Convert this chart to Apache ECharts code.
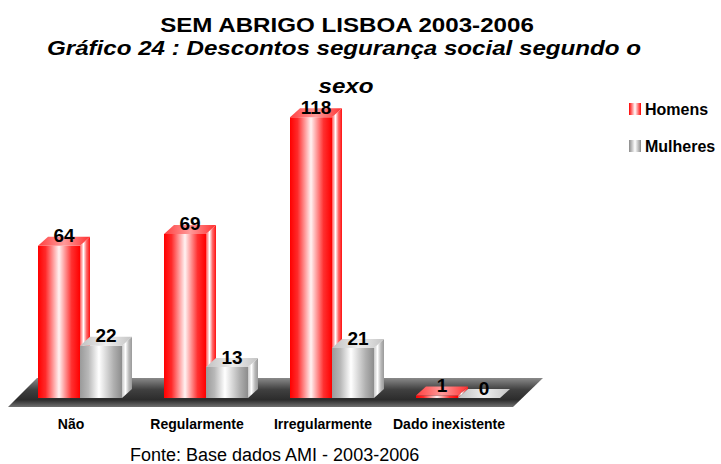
<!DOCTYPE html>
<html lang="pt">
<head>
    <meta charset="UTF-8">
    <title>Sem Abrigo Lisboa 2003-2006</title>
    <script src="https://cdn.jsdelivr.net/npm/echarts@6/dist/echarts.min.js"></script>
    <style>
        html, body { margin: 0; padding: 0; background: #fff; }
        #chart { width: 721px; height: 464px; }
    </style>
</head>
<body>
    <div id="chart"></div>
    <script>
        // dados do gráfico
        const categorias = ['Não', 'Regularmente', 'Irregularmente', 'Dado inexistente'];
        const homens = [64, 69, 118, 1];
        const mulheres = [22, 13, 21, 0];
        const seriesNames = ['Homens', 'Mulheres'];

        const FONT = '"Liberation Sans", Arial, sans-serif';
        const BAR_W = 42;   // largura da face frontal
        const DX = 10, DY = -9;  // profundidade 3D

        function grad(x, y, x2, y2, stops) {
            return new echarts.graphic.LinearGradient(x, y, x2, y2,
                stops.map(s => ({ offset: s[0], color: s[1] })));
        }

        const styles = {
            Homens: {
                front: [[0, '#ff0000'], [0.18, '#ff2a2a'], [0.5, '#fff2f2'], [0.8, '#ff3030'], [1, '#ff0000']],
                side: [[0, '#ff5050'], [0.35, '#ffffff'], [0.65, '#ff6a6a'], [1, '#ff1010']],
                top: [[0, '#ff4040'], [0.5, '#ff9a9a'], [1, '#ff3030']],
                legend: [[0, '#ff0000'], [0.5, '#ffffff'], [1, '#ff0000']]
            },
            Mulheres: {
                front: [[0, '#9a9a9a'], [0.2, '#b8b8b8'], [0.45, '#ffffff'], [0.8, '#b0b0b0'], [1, '#8c8c8c']],
                side: [[0, '#c8c8c8'], [0.35, '#ffffff'], [0.7, '#b8b8b8'], [1, '#9a9a9a']],
                top: [[0, '#c0c0c0'], [0.5, '#eeeeee'], [1, '#c4c4c4']],
                legend: [[0, '#8a8a8a'], [0.5, '#ffffff'], [1, '#8a8a8a']]
            }
        };

        function barRenderer(name, offset) {
            const st = styles[name];
            return function (params, api) {
                const i = api.value(0);
                const v = api.value(1);
                const top = api.coord([i, v]);
                const base = api.coord([i, 0]);
                const x0 = top[0] + offset;
                const x1 = x0 + BAR_W;
                const yT = top[1];
                const yB = base[1];
                const children = [];
                if (yB - yT > 0.5) {
                    children.push({
                        type: 'rect',
                        shape: { x: x0, y: yT, width: BAR_W, height: yB - yT },
                        style: { fill: grad(0, 0, 1, 0, st.front) }
                    });
                    children.push({
                        type: 'polygon',
                        shape: { points: [[x1, yT], [x1 + DX, yT + DY], [x1 + DX, yB + DY], [x1, yB]] },
                        style: { fill: grad(0, 0, 1, 0, st.side) }
                    });
                }
                children.push({
                    type: 'polygon',
                    shape: { points: [[x0, yT], [x0 + DX, yT + DY], [x1 + DX, yT + DY], [x1, yT]] },
                    style: { fill: grad(0, 0, 1, 0, st.top) }
                });
                children.push({
                    type: 'text',
                    z2: 10,
                    style: {
                        text: String(v),
                        x: x0 + BAR_W / 2 + DX / 2,
                        y: yT - 10,
                        align: 'center',
                        verticalAlign: 'middle',
                        font: 'bold 19px ' + FONT,
                        fill: '#000'
                    }
                });
                return { type: 'group', children: children };
            };
        }

        function floorRenderer(params, api) {
            const cs = params.coordSys;
            const y0 = api.coord([0, 0])[1];
            const left = cs.x, right = cs.x + cs.width;
            return {
                type: 'polygon',
                shape: {
                    points: [
                        [left - 9, y0 + 9], [right - 8, y0 + 9],
                        [right + 22, y0 - 20], [left + 20, y0 - 20]
                    ]
                },
                style: {
                    fill: grad(0, 0, 0, 1, [[0, '#8a8a8a'], [0.4, '#404040'], [0.75, '#2c2c2c'], [1, '#707070']])
                }
            };
        }

        function titleText(text, x, y, font) {
            return {
                type: 'text', x: x, y: y, scaleX: 1.15,
                style: { text: text, font: font, fill: '#000', align: 'center', verticalAlign: 'middle' }
            };
        }

        const chart = echarts.init(document.getElementById('chart'), null, { renderer: 'svg' });

        const option = {
            animation: false,
            backgroundColor: '#fff',
            graphic: [
                titleText('SEM ABRIGO LISBOA 2003-2006', 347, 25, 'bold 21px ' + FONT),
                titleText('Gráfico 24 : Descontos segurança social segundo o', 344, 48, 'italic bold 21px ' + FONT),
                titleText('sexo', 346, 86, 'italic bold 21px ' + FONT),
                {
                    type: 'text', left: 130, top: 446,
                    style: { text: 'Fonte: Base dados AMI - 2003-2006', font: '18px ' + FONT, fill: '#000' }
                }
            ],
            legend: {
                data: seriesNames,
                orient: 'vertical',
                left: 624,
                top: 96,
                icon: 'rect',
                itemWidth: 12,
                itemHeight: 12,
                itemGap: 21,
                textStyle: { fontFamily: FONT, fontWeight: 'bold', fontSize: 16, color: '#000', padding: [0, 0, 0, -1] }
            },
            grid: { left: 17, right: 200, top: 65, bottom: 66 },
            xAxis: {
                type: 'category',
                data: categorias,
                axisLine: { show: false },
                axisTick: { show: false },
                axisLabel: {
                    interval: 0,
                    margin: 19,
                    fontFamily: FONT,
                    fontWeight: 'bold',
                    fontSize: 14,
                    color: '#000',
                    padding: [0, 18, 0, 0]
                }
            },
            yAxis: { type: 'value', min: 0, max: 140, show: false },
            series: [
                {
                    name: 'floor', type: 'custom', z: 1,
                    data: [[0, 0]],
                    renderItem: floorRenderer,
                    silent: true
                },
                {
                    name: 'Homens', type: 'custom', z: 2,
                    itemStyle: { color: grad(0, 0, 1, 0, styles.Homens.legend) },
                    data: homens.map((v, i) => [i, v]),
                    renderItem: barRenderer('Homens', -BAR_W)
                },
                {
                    name: 'Mulheres', type: 'custom', z: 3,
                    itemStyle: { color: grad(0, 0, 1, 0, styles.Mulheres.legend) },
                    data: mulheres.map((v, i) => [i, v]),
                    renderItem: barRenderer('Mulheres', 0)
                }
            ]
        };

        chart.setOption(option);
    </script>
</body>
</html>
